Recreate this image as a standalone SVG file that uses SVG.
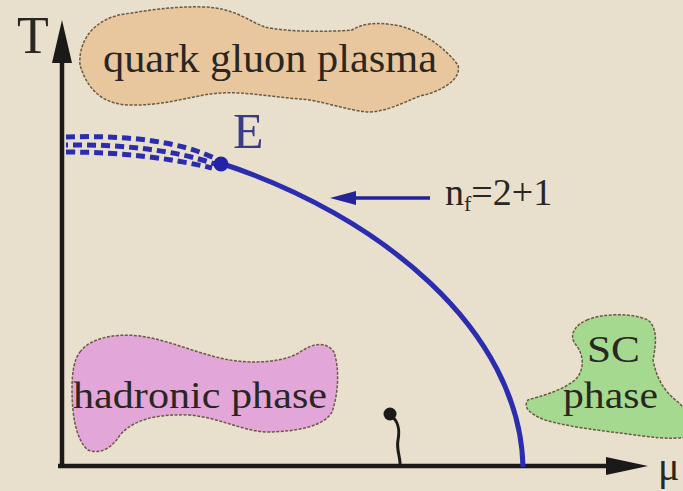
<svg xmlns="http://www.w3.org/2000/svg" width="683" height="491" viewBox="0 0 683 491">
<style>
.t{font-family:"Liberation Serif","DejaVu Serif","Noto Serif","Times New Roman",serif;fill:#2a2622}
.blob{stroke:#6b5a45;stroke-width:1.5;stroke-dasharray:3,1.5}
.blue{fill:none;stroke:#2c2cae;stroke-width:5}
.axis{stroke:#1c1a18;stroke-width:4.5;fill:none}
</style>
<rect width="683" height="491" fill="#e8e0cd"/>

<g id="qgp">
<path class="blob" fill="#e8c79f" d="M80,65 C78,40 95,18 125,14 C150,10 175,6 205,7 C235,8 250,22 265,27 C285,32 330,32 352,30 C362,24 375,21 400,26 C425,33 445,48 458,65 C462,80 440,92 420,96 C400,104 385,112 368,112 C345,110 320,100 300,99 C270,97 240,90 210,94 C185,98 160,106 128,105 C105,104 88,92 80,65 Z"/>
<text class="t" x="103" y="72" font-size="40" textLength="334" lengthAdjust="spacingAndGlyphs">quark gluon plasma</text>
</g>

<g id="hadronic">
<path class="blob" fill="#e2a6d8" d="M80,352 C90,338 115,333 140,336 C170,340 200,355 230,360 C255,364 285,362 300,352 C312,344 325,340 334,352 C340,370 338,395 332,412 C325,425 300,432 265,432 C240,430 220,418 190,415 C160,414 135,418 120,435 C112,448 100,455 88,450 C76,440 72,415 72,390 C72,372 74,360 80,352 Z"/>
<text class="t" x="73" y="408" font-size="38" textLength="254" lengthAdjust="spacingAndGlyphs">hadronic phase</text>
</g>

<g id="sc">
<path class="blob" fill="#a5d98f" d="M587,320 C600,314 630,312 648,320 C658,328 656,345 653,360 C656,375 662,390 678,402 L686,410 L686,437 C670,440 650,437 620,433 C595,430 565,426 545,420 C532,415 522,408 528,400 C540,396 560,392 575,380 C585,370 584,355 576,345 C568,335 575,325 587,320 Z"/>
<text class="t" x="587" y="362" font-size="38" textLength="53" lengthAdjust="spacingAndGlyphs">SC</text>
<text class="t" x="563" y="408" font-size="38" textLength="95" lengthAdjust="spacingAndGlyphs">phase</text>
</g>

<g id="axes">
<line class="axis" x1="62" y1="467" x2="62" y2="58"/>
<path d="M62,20 L72,63 L52,63 Z" fill="#1c1a18"/>
<line class="axis" x1="58" y1="466" x2="612" y2="466"/>
<path d="M648,466 L606,457 L606,475 Z" fill="#1c1a18"/>
<text class="t" x="17" y="53" font-size="52">T</text>
<text class="t" x="658" y="480" font-size="40">μ</text>
</g>

<g id="connectors">
<path class="blue" stroke-dasharray="9,5" d="M66,137 C120,135 180,140 218,160"/>
<path class="blue" stroke-dasharray="9,5" stroke-dashoffset="7" d="M66,145 C120,144 175,150 215,164"/>
<path class="blue" stroke-dasharray="9,5" d="M66,152 C120,152 170,158 212,168"/>
<path class="blue" d="M220,163 C380,215 520,330 523,467"/>
<line x1="430" y1="198" x2="345" y2="198" stroke="#23239a" stroke-width="3.5"/>
<path d="M330,198 L356,191 L356,205 Z" fill="#23239a"/>
<path d="M390,415 C398,420 400,430 398,440 C396,450 401,458 400,467" fill="none" stroke="#1c1a18" stroke-width="3"/>
</g>

<g id="E">
<circle cx="221" cy="164" r="7.5" fill="#2323a8"/>
<text class="t" x="233" y="148" font-size="50" style="fill:#3b3b86">E</text>
</g>

<g id="dot">
<circle cx="390" cy="414" r="6.5" fill="#1c1a18"/>
</g>

<g id="nf">
<text class="t" x="445" y="205" font-size="38">n<tspan font-size="22" dy="6">f</tspan><tspan dy="-6">=2+1</tspan></text>
</g>
</svg>
